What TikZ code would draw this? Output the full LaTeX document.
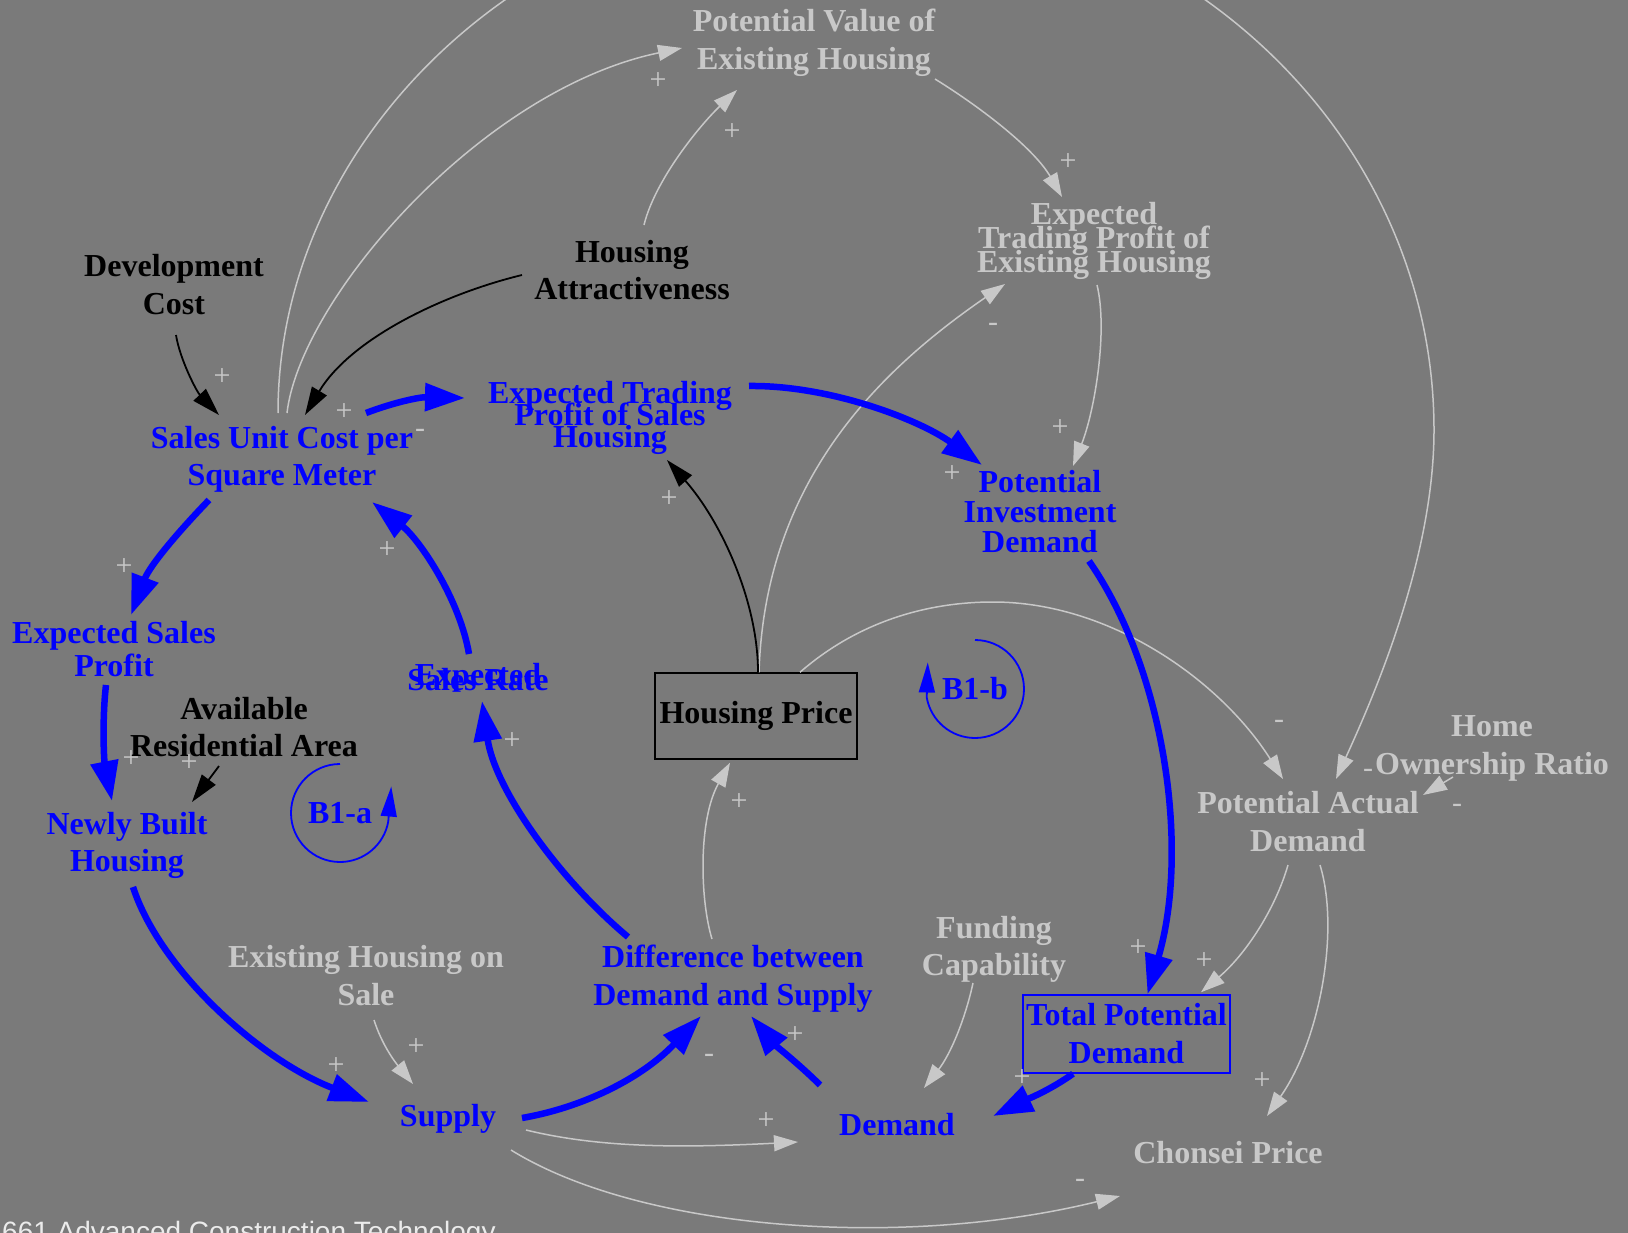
\documentclass[tikz,border=0pt]{standalone}
\usepackage{fontspec}
\setmainfont{Liberation Serif}
\newfontfamily\footfont{Liberation Sans}
\usetikzlibrary{arrows.meta,calc}
\definecolor{bgc}{RGB}{122,122,122}
\definecolor{lgc}{RGB}{200,200,200}
\definecolor{bluec}{RGB}{0,0,255}
\definecolor{footc}{RGB}{235,235,235}
\newcommand{\tightlines}{\lineskiplimit=-100pt\relax\lineskip=0pt\relax}
\begin{document}
\begin{tikzpicture}[x=1pt,y=-1pt,
  txt/.style={inner sep=0pt, outer sep=0pt, align=center, anchor=base},
  ls/.style={font=\bfseries\fontsize{32}{#1}\selectfont\tightlines},
  bluevar/.style={txt, text=bluec},
  grayvar/.style={txt, text=lgc},
  blackvar/.style={txt, text=black},
  loopname/.style={inner sep=0pt, anchor=center, text=bluec, font=\bfseries\fontsize{32}{37}\selectfont},
  sign/.style={inner sep=0pt, anchor=center, text=lgc, font=\fontsize{30}{30}\selectfont},
  glink/.style={draw=lgc, line width=1.5pt, -{Triangle[length=24pt,width=16pt]}},
  klink/.style={draw=black, line width=1.8pt, -{Triangle[length=28pt,width=17pt]}},
  blink/.style={draw=bluec, line width=6.5pt, -{Triangle[length=40pt,width=27pt]}},
  looparrow/.style={draw=bluec, line width=1.8pt, -{Triangle[length=30pt,width=16pt]}}
]
\useasboundingbox (0,0) rectangle (1628,1233);
\fill[bgc] (0,0) rectangle (1628,1233);

% ---------------- nodes (placed at the baseline of their last line) ----------------
\node[grayvar, ls=38] (pve) at (814,70) {Potential Value of\\Existing Housing};
\node[grayvar, ls=24] (etpe) at (1094,273) {Expected\\Trading Profit of\\Existing Housing};
\node[blackvar, ls=38] (dev) at (174,315) {Development\\Cost};
\node[blackvar, ls=37] (ha) at (632,300) {Housing\\Attractiveness};
\node[bluevar, ls=37] (suc) at (282,485) {Sales Unit Cost per\\Square Meter};
\node[bluevar, ls=22] (etps) at (610,447) {Expected Trading\\Profit of Sales\\Housing};
\node[bluevar, ls=30] (pid) at (1040,552) {Potential\\Investment\\Demand};
\node[bluevar, ls=33] (esp) at (114,676) {Expected Sales\\Profit};
\node[bluevar, ls=5] (esr) at (478,690) {Expected\\Sales Rate};
\node[draw=black, line width=1.5pt, minimum width=202pt, minimum height=86pt, inner sep=0pt, anchor=center,
      font=\bfseries\fontsize{32}{37}\selectfont] (hp) at (756,716) {Housing Price};
\node[loopname] (b1b) at (975,689) {B1-b};
\node[blackvar, ls=37] (ara) at (244,756) {Available\\Residential Area};
\node[bluevar, ls=37] (nbh) at (127,871) {Newly Built\\Housing};
\node[loopname] (b1a) at (340,813) {B1-a};
\node[grayvar, ls=38] (hor) at (1492,774) {Home\\Ownership Ratio};
\node[grayvar, ls=38] (pad) at (1308,851) {Potential Actual\\Demand};
\node[grayvar, ls=38] (ehs) at (366,1005) {Existing Housing on\\Sale};
\node[bluevar, ls=38] (diff) at (733,1005) {Difference between\\Demand and Supply};
\node[grayvar, ls=37] (fc) at (994,975) {Funding\\Capability};
\node[draw=bluec, text=bluec, line width=1.5pt, minimum width=207pt, minimum height=78pt, inner sep=0pt,
      anchor=center, align=center, ls=38] (tpd) at (1126.5,1034) {Total Potential\\Demand};
\node[bluevar, ls=37] (supply) at (448,1126) {Supply};
\node[bluevar, ls=37] (demand) at (897,1135) {Demand};
\node[grayvar, ls=37] (chonsei) at (1228,1163) {Chonsei Price};
\node[anchor=base west, inner sep=0pt, text=footc, font=\footfont\fontsize{28}{30}\selectfont] (foot) at (2,1241)
      {661 Advanced Construction Technology};

% ---------------- gray links ----------------
\draw[glink] ($(suc.base)+(5,-72)$) .. controls (300,300) and (480,90) .. ($(pve.base)+(-132,-22)$);
\draw[glink] ($(suc.base)+(-4,-72)$) .. controls (278,132) and (537,-110) .. (856,-110)
   .. controls (1175,-110) and (1434,132) .. (1434,430)
   .. controls (1434,560) and (1372,700) .. ($(pad.base)+(28,-72)$);
\draw[glink] ($(ha.base)+(12,-75)$) .. controls (655,180) and (700,125) .. ($(pve.base)+(-77,20)$);
\draw[glink] ($(pve.base)+(121,9)$) .. controls (985,110) and (1035,150) .. ($(etpe.base)+(-32,-76)$);
\draw[glink] ($(hp.north)+(3,0)$) .. controls (765,480) and (880,370) .. ($(etpe.base)+(-89,11)$);
\draw[glink] ($(etpe.base)+(3,12)$) .. controls (1108,330) and (1095,410) .. ($(pid.base)+(33,-86)$);
\draw[glink] ($(hp.north)+(44,0)$) .. controls (860,620) and (930,602) .. (993,602)
   .. controls (1110,602) and (1220,680) .. ($(pad.base)+(-25,-72)$);
\draw[glink] ($(ehs.base)+(8,15)$) .. controls (382,1045) and (395,1062) .. ($(supply.base)+(-35,-42)$);
\draw[glink] ($(supply.base)+(78,4)$) .. controls (600,1148) and (680,1148) .. ($(demand.base)+(-99,7)$);
\draw[glink] ($(supply.base)+(63,24)$) .. controls (640,1230) and (900,1250) .. ($(chonsei.base)+(-108,33)$);
\draw[glink] ($(fc.base)+(-21,8)$) .. controls (965,1020) and (950,1055) .. ($(demand.base)+(27,-47)$);
\draw[glink] ($(diff.base)+(-21,-66)$) .. controls (700,900) and (698,820) .. ($(hp.south)+(-26,3)$);
\draw[glink] ($(pad.base)+(-20,14)$) .. controls (1275,910) and (1245,955) .. ($(tpd.north)+(74.5,-2)$);
\draw[glink] ($(pad.base)+(12,14)$) .. controls (1340,930) and (1320,1040) .. ($(chonsei.base)+(39,-47)$);
\draw[glink] ($(hor.base)+(-39,3)$) -- ($(pad.base)+(115,-56)$);

% ---------------- black links ----------------
\draw[klink] ($(dev.base)+(2,20)$) .. controls (180,360) and (197,392) .. ($(suc.base)+(-63,-70)$);
\draw[klink] ($(ha.base)+(-110,-25)$) .. controls (440,295) and (350,340) .. ($(suc.base)+(23,-70)$);
\draw[klink] ($(hp.north)+(2,0)$) .. controls (758,600) and (720,520) .. ($(etps.base)+(57,13)$);
\draw[klink] ($(ara.base)+(-25,10)$) -- ($(nbh.base)+(65,-69)$);

% ---------------- blue links ----------------
\draw[blink] ($(suc.base)+(84,-72)$) .. controls (395,402) and (420,397) .. ($(etps.base)+(-145,-49)$);
\draw[blink] ($(etps.base)+(139,-61)$) .. controls (830,385) and (920,420) .. ($(pid.base)+(-58,-87)$);
\draw[blink] ($(pid.base)+(49,9)$) .. controls (1165,670) and (1190,850) .. ($(tpd.north)+(21,0)$);
\draw[blink] ($(suc.base)+(-73,15)$) .. controls (180,530) and (150,565) .. ($(esp.base)+(17,-61)$);
\draw[blink] ($(esr.base)+(-9,-36)$) .. controls (460,600) and (420,540) .. ($(suc.base)+(90,17)$);
\draw[blink] ($(esp.base)+(-8,9)$) .. controls (102,720) and (104,760) .. ($(nbh.base)+(-15,-70)$);
\draw[blink] ($(nbh.base)+(6,16)$) .. controls (160,970) and (260,1060) .. ($(supply.base)+(-79,-24)$);
\draw[blink] ($(supply.base)+(74,-8)$) .. controls (580,1108) and (640,1080) .. ($(diff.base)+(-32,11)$);
\draw[blink] ($(tpd.south)+(-53.5,0)$) .. controls (1050,1090) and (1030,1098) .. ($(demand.base)+(96,-19)$);
\draw[blink] ($(demand.base)+(-77,-50)$) .. controls (800,1065) and (775,1045) .. ($(diff.base)+(18,11)$);
\draw[blink] ($(diff.base)+(-105,-68)$) .. controls (560,880) and (495,790) .. ($(esr.base)+(4,11)$);

% ---------------- loop markers ----------------
\draw[looparrow] ($(b1a)+(0,-49)$) arc[start angle=270, end angle=10, radius=49] -- ++(3,-35);
\draw[looparrow] ($(b1b)+(0,-49)$) arc[start angle=270, end angle=530, radius=49] -- ++(1,-35);

% ---------------- polarity signs ----------------
\foreach \n/\px/\py/\s in {
  1/222/377/+, 2/658/81/+, 3/732/132/+, 4/344/412/+, 5/420/433/-,
  6/1068/162/+, 7/993/327/-, 8/1060/428/+, 9/952/474/+, 10/124/567/+,
  11/387/550/+, 12/131/759/+, 13/189/763/+, 14/512/741/+, 15/336/1066/+,
  16/416/1047/+, 17/709/1058/-, 18/766/1121/+, 19/795/1035/+, 20/739/802/+,
  21/669/499/+, 22/1279/724/-, 23/1368/773/-, 24/1457/808/-, 25/1138/948/+,
  26/1204/961/+, 27/1262/1081/+, 28/1022/1078/+, 29/1080/1183/-}
  {\node[sign] (sg\n) at (\px,\py) {\s};}
\end{tikzpicture}
\end{document}
